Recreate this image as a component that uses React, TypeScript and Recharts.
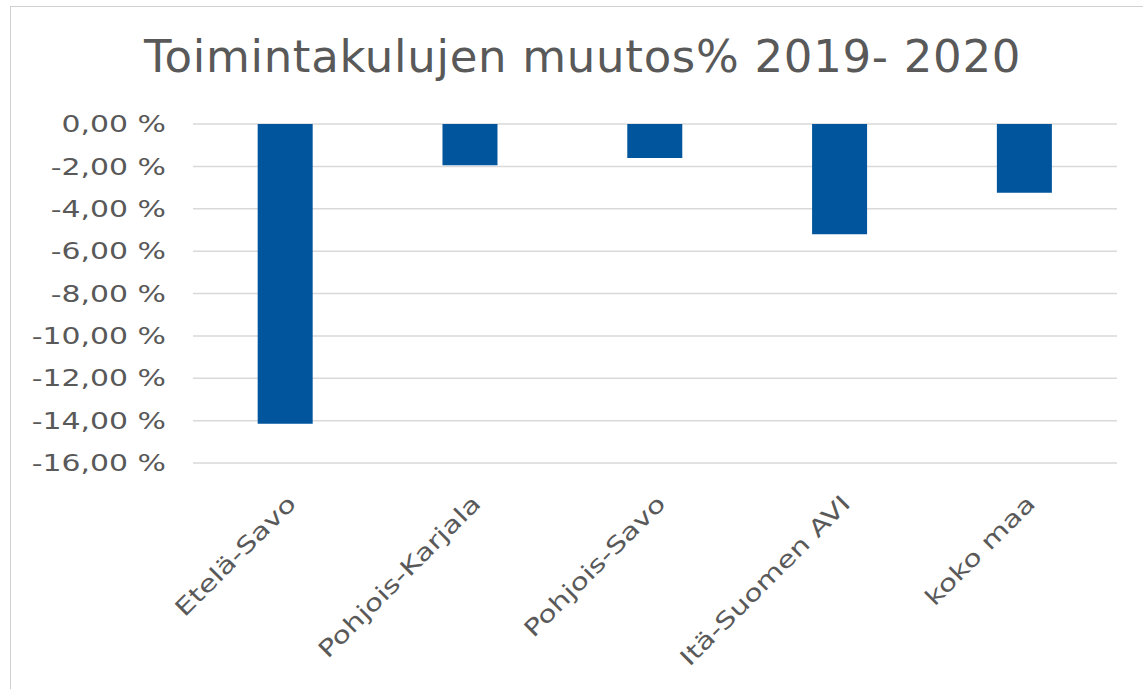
import { BarChart, Bar, XAxis, YAxis, CartesianGrid } from 'recharts';

const alueet = ['Etelä-Savo', 'Pohjois-Karjala', 'Pohjois-Savo', 'Itä-Suomen AVI', 'koko maa'];
const muutos = [-14.15, -1.95, -1.6, -5.2, -3.25];
const yTicks = [0, -2, -4, -6, -8, -10, -12, -14, -16];

const data = alueet.map((alue, i) => ({ alue, muutos: muutos[i] }));

const FONT = '"DejaVu Sans", Verdana, sans-serif';
const TXT = '#595959';

const fmt = (v: number) => v.toFixed(2).replace('.', ',') + ' %';

function XTick({ x, y, payload }: any) {
    return (
        <g transform={`translate(${x + 12},${y + 34}) rotate(-45) scale(1.3,1)`}>
            <text x={0} y={0} textAnchor="end" fill={TXT} fontSize={23} fontFamily={FONT}>
                {payload.value}
            </text>
        </g>
    );
}

function YTick({ x, y, payload }: any) {
    return (
        <g transform={`translate(${x},${y}) scale(1.3,1)`}>
            <text x={0} y={0} dy="0.355em" textAnchor="end" fill={TXT} fontSize={23} fontFamily={FONT}>
                {fmt(payload.value)}
            </text>
        </g>
    );
}

export default function App() {
    return (
        <div style={{ position: 'absolute', left: 0, top: 0, width: 1143, height: 689, background: '#fff', overflow: 'hidden' }}>
            <div
                style={{
                    position: 'absolute',
                    left: 10,
                    top: 6,
                    width: 1140,
                    height: 700,
                    border: '1px solid #d0d0d0',
                    boxSizing: 'border-box',
                }}
            />
            <div
                style={{
                    position: 'absolute',
                    left: 0,
                    top: 29,
                    width: 1165,
                    textAlign: 'center',
                    fontFamily: FONT,
                    fontSize: 45,
                    letterSpacing: 0.7,
                    color: TXT,
                    lineHeight: '56px',
                }}
            >
                Toimintakulujen muutos% 2019- 2020
            </div>
            <div style={{ position: 'absolute', left: 0, top: 0 }}>
                <BarChart
                    width={1143}
                    height={689}
                    data={data}
                    margin={{ top: 124, right: 26, left: 0, bottom: 26 }}
                    barCategoryGap="35%"
                >
                    <CartesianGrid vertical={false} stroke="#d9d9d9" strokeWidth={1.5} />
                    <XAxis
                        dataKey="alue"
                        axisLine={false}
                        tickLine={false}
                        interval={0}
                        height={200}
                        tick={<XTick />}
                    />
                    <YAxis
                        width={193}
                        domain={[-16, 0]}
                        ticks={yTicks}
                        interval={0}
                        axisLine={false}
                        tickLine={false}
                        tickSize={0}
                        tickMargin={27}
                        tick={<YTick />}
                    />
                    <Bar dataKey="muutos" fill="#01559d" isAnimationActive={false} />
                </BarChart>
            </div>
        </div>
    );
}
